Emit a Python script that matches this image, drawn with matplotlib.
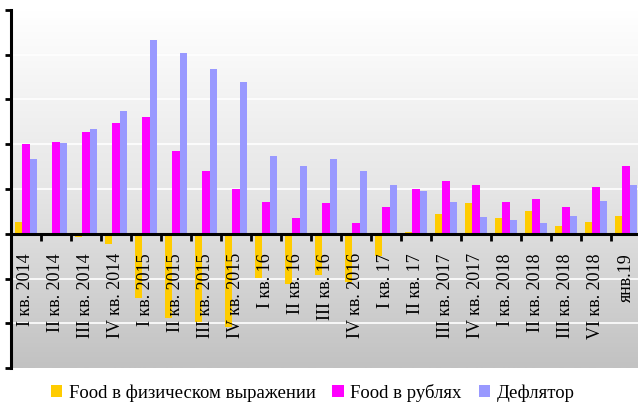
import numpy as np
import matplotlib
matplotlib.use("Agg")
import matplotlib.pyplot as plt
from matplotlib.colors import LinearSegmentedColormap

# -----------------------------
# Data
# -----------------------------
categories = [
    "I кв. 2014", "II кв. 2014", "III кв. 2014", "IV кв. 2014",
    "I кв. 2015", "II кв. 2015", "III кв. 2015", "IV кв. 2015",
    "I кв. 16", "II кв. 16", "III кв. 16", "IV кв. 2016",
    "I кв. 17", "II кв. 17", "III кв. 2017", "IV кв. 2017",
    "I кв. 2018", "II кв. 2018", "III кв. 2018", "VI кв. 2018", "янв.19",
]
food_real = [1.35, 0.0, -0.4, -1.2, -7.2, -9.4, -9.9, -10.4, -4.9, -5.6, -4.6,
             -5.4, -2.5, 0.2, 2.2, 3.4, 1.8, 2.5, 0.9, 1.3, 2.0]
food_rub = [10.0, 10.2, 11.4, 12.4, 13.1, 9.2, 7.0, 5.0, 3.5, 1.8, 3.4,
            1.2, 3.0, 5.0, 5.9, 5.5, 3.5, 3.9, 3.0, 5.2, 7.6]
deflator = [8.3, 10.1, 11.7, 13.7, 21.6, 20.2, 18.4, 17.0, 8.7, 7.6, 8.4,
            7.0, 5.4, 4.8, 3.5, 1.9, 1.5, 1.2, 2.0, 3.7, 5.4]

series_names = ["Food в физическом выражении", "Food в рублях", "Дефлятор"]
colors = ["#FFCC00", "#FF00FF", "#9999FF"]

plt.rcParams["font.family"] = ["Liberation Serif", "DejaVu Serif"]

# -----------------------------
# Figure
# -----------------------------
fig = plt.figure(figsize=(6.38, 4.05), dpi=100)
ax = fig.add_axes([11 / 638, 37 / 405, 630 / 638, 358 / 405])

n = len(categories)
x = np.arange(n)
w = 0.235
ymin, ymax = -15, 25

# gradient background
grad = LinearSegmentedColormap.from_list("bg", ["#ffffff", "#e6e6e6", "#c2c2c2"])
ax.imshow(np.linspace(0, 1, 256).reshape(-1, 1), cmap=grad, aspect="auto",
          extent=[-0.5, n - 0.5, ymin, ymax], origin="upper", zorder=0)

for yv in range(ymin + 5, ymax, 5):
    ax.axhline(yv, color="white", lw=1.2, zorder=0.5)

for k, (vals, c, name) in enumerate(zip([food_real, food_rub, deflator], colors, series_names)):
    ax.bar(x + (k - 1) * w, vals, width=w, color=c, label=name, zorder=1)

ax.set_xlim(-0.5, n - 0.5)
ax.set_ylim(ymin, ymax)

ax.spines["top"].set_visible(False)
ax.spines["right"].set_visible(False)
ax.spines["bottom"].set_position(("data", 0))
ax.spines["bottom"].set_linewidth(2.2)
ax.spines["left"].set_linewidth(2.2)
ax.spines["bottom"].set_zorder(3)

ax.set_yticks(range(ymin, ymax + 1, 5))
ax.set_yticklabels([])
ax.tick_params(axis="y", direction="out", length=4, width=2)

ax.set_xticks(np.arange(n + 1) - 0.5)
ax.set_xticklabels([])
ax.tick_params(axis="x", which="major", direction="out", length=5, width=2)
ax.set_xticks(x, minor=True)
ax.set_xticklabels(categories, minor=True, rotation=90, fontsize=13)
ax.tick_params(axis="x", which="minor", length=0, pad=14)
ax.xaxis.set_zorder(3)

fig.legend(loc="center", bbox_to_anchor=(0.49, 0.03), ncol=3, frameon=False,
           fontsize=13.5, handlelength=0.6, handleheight=0.6, handletextpad=0.35,
           columnspacing=0.9, borderaxespad=0)

fig.savefig("out.png", dpi=100)
